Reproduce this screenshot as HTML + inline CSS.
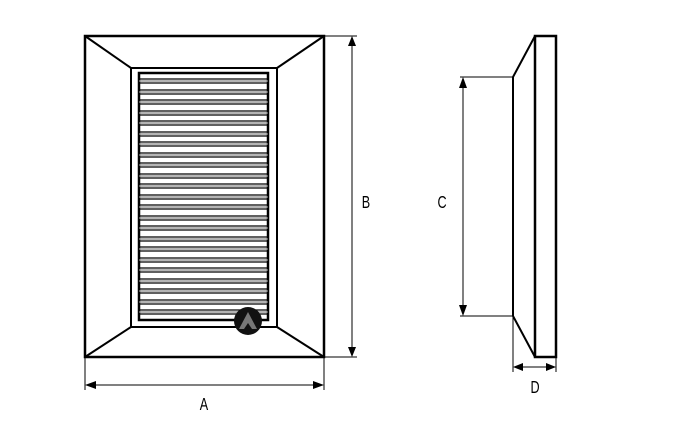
<!DOCTYPE html>
<html><head><style>body{margin:0;background:#fff}svg{display:block}</style></head><body>
<svg width="681" height="427" viewBox="0 0 681 427" xmlns="http://www.w3.org/2000/svg">
<g fill="none" stroke="#000">
<rect x="85" y="36" width="239" height="321" stroke-width="2.5"/>
<rect x="131" y="68" width="146" height="259" stroke-width="2"/>
<line x1="85" y1="36" x2="131" y2="68" stroke-width="2"/>
<line x1="324" y1="36" x2="277" y2="68" stroke-width="2"/>
<line x1="85" y1="357" x2="131" y2="327" stroke-width="2"/>
<line x1="324" y1="357" x2="277" y2="327" stroke-width="2"/>
<rect x="139" y="73" width="129" height="247" stroke-width="2.5"/>
</g>
<g stroke-width="1.3">
<g stroke="#000">
<line x1="139" x2="268" y1="79" y2="79"/><line x1="139" x2="268" y1="83" y2="83"/>
<line x1="139" x2="268" y1="90" y2="90"/><line x1="139" x2="268" y1="94" y2="94"/>
<line x1="139" x2="268" y1="100" y2="100"/><line x1="139" x2="268" y1="104" y2="104"/>
<line x1="139" x2="268" y1="111" y2="111"/><line x1="139" x2="268" y1="115" y2="115"/>
<line x1="139" x2="268" y1="121" y2="121"/><line x1="139" x2="268" y1="125" y2="125"/>
<line x1="139" x2="268" y1="132" y2="132"/><line x1="139" x2="268" y1="136" y2="136"/>
<line x1="139" x2="268" y1="142" y2="142"/><line x1="139" x2="268" y1="146" y2="146"/>
<line x1="139" x2="268" y1="153" y2="153"/><line x1="139" x2="268" y1="157" y2="157"/>
<line x1="139" x2="268" y1="163" y2="163"/><line x1="139" x2="268" y1="167" y2="167"/>
<line x1="139" x2="268" y1="174" y2="174"/><line x1="139" x2="268" y1="178" y2="178"/>
<line x1="139" x2="268" y1="184" y2="184"/><line x1="139" x2="268" y1="188" y2="188"/>
<line x1="139" x2="268" y1="195" y2="195"/><line x1="139" x2="268" y1="199" y2="199"/>
<line x1="139" x2="268" y1="205" y2="205"/><line x1="139" x2="268" y1="209" y2="209"/>
<line x1="139" x2="268" y1="216" y2="216"/><line x1="139" x2="268" y1="220" y2="220"/>
<line x1="139" x2="268" y1="226" y2="226"/><line x1="139" x2="268" y1="230" y2="230"/>
<line x1="139" x2="268" y1="237" y2="237"/><line x1="139" x2="268" y1="241" y2="241"/>
<line x1="139" x2="268" y1="247" y2="247"/><line x1="139" x2="268" y1="251" y2="251"/>
<line x1="139" x2="268" y1="258" y2="258"/><line x1="139" x2="268" y1="262" y2="262"/>
<line x1="139" x2="268" y1="268" y2="268"/><line x1="139" x2="268" y1="272" y2="272"/>
<line x1="139" x2="268" y1="279" y2="279"/><line x1="139" x2="268" y1="283" y2="283"/>
<line x1="139" x2="268" y1="289" y2="289"/><line x1="139" x2="268" y1="293" y2="293"/>
<line x1="139" x2="268" y1="300" y2="300"/><line x1="139" x2="268" y1="304" y2="304"/>
<line x1="139" x2="268" y1="310" y2="310"/><line x1="139" x2="268" y1="314" y2="314"/>
</g>
<g stroke="#888">
<line x1="139" x2="268" y1="81" y2="81"/><line x1="139" x2="268" y1="92" y2="92"/><line x1="139" x2="268" y1="102" y2="102"/><line x1="139" x2="268" y1="113" y2="113"/><line x1="139" x2="268" y1="123" y2="123"/><line x1="139" x2="268" y1="134" y2="134"/><line x1="139" x2="268" y1="144" y2="144"/><line x1="139" x2="268" y1="155" y2="155"/><line x1="139" x2="268" y1="165" y2="165"/><line x1="139" x2="268" y1="176" y2="176"/><line x1="139" x2="268" y1="186" y2="186"/><line x1="139" x2="268" y1="197" y2="197"/><line x1="139" x2="268" y1="207" y2="207"/><line x1="139" x2="268" y1="218" y2="218"/><line x1="139" x2="268" y1="228" y2="228"/><line x1="139" x2="268" y1="239" y2="239"/><line x1="139" x2="268" y1="249" y2="249"/><line x1="139" x2="268" y1="260" y2="260"/><line x1="139" x2="268" y1="270" y2="270"/><line x1="139" x2="268" y1="281" y2="281"/><line x1="139" x2="268" y1="291" y2="291"/><line x1="139" x2="268" y1="302" y2="302"/><line x1="139" x2="268" y1="312" y2="312"/>
</g>
</g>
<circle cx="248" cy="321" r="14" fill="#111"/>
<polygon points="239,329 248,312 257,329 252,329 248,323 244,329" fill="#777"/>
<g fill="none" stroke="#000">
<rect x="535" y="36" width="21" height="321" stroke-width="2.5"/>
<polyline points="535,36 513,77 513,316 535,357" stroke-width="2"/>
</g>
<g stroke="#000" stroke-width="1" fill="none">
<line x1="324" y1="36" x2="357" y2="36"/><line x1="324" y1="357" x2="357" y2="357"/>
<line x1="352" y1="40" x2="352" y2="353"/>
<line x1="85" y1="357" x2="85" y2="390"/><line x1="324" y1="357" x2="324" y2="390"/>
<line x1="89" y1="385" x2="320" y2="385"/>
<line x1="460" y1="77" x2="513" y2="77"/><line x1="460" y1="316" x2="513" y2="316"/>
<line x1="463" y1="81" x2="463" y2="312"/>
<line x1="513" y1="316" x2="513" y2="372"/><line x1="556" y1="357" x2="556" y2="372"/>
<line x1="517" y1="367" x2="552" y2="367"/>
</g>
<g fill="#000">
<polygon points="352,36 348,46 356,46"/><polygon points="352,357 348,347 356,347"/>
<polygon points="85,385 96,381 96,389"/><polygon points="324,385 313,381 313,389"/>
<polygon points="463,77 459,88 467,88"/><polygon points="463,316 459,305 467,305"/>
<polygon points="513,367 523,363 523,371"/><polygon points="556,367 546,363 546,371"/>
</g>
<g font-family="Liberation Sans, sans-serif" font-size="18" fill="#000" text-anchor="middle">
<text transform="translate(204 410) scale(0.7 1)">A</text>
<text transform="translate(366 208) scale(0.7 1)">B</text>
<text transform="translate(442 208) scale(0.7 1)">C</text>
<text transform="translate(535 393) scale(0.7 1)">D</text>
</g>
</svg>
</body></html>
